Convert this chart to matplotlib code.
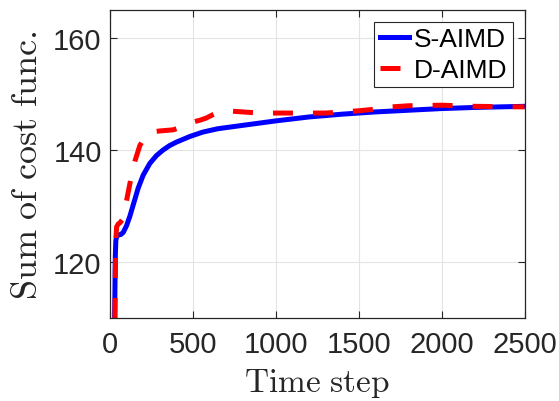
import numpy as np
import matplotlib
matplotlib.use('Agg')
import matplotlib.pyplot as plt

plt.rcParams['mathtext.fontset'] = 'cm'
plt.rcParams['font.family'] = ['Liberation Sans', 'DejaVu Sans']

# S-AIMD (solid blue)
s_x = [28, 30, 32, 35, 40, 50, 65, 80, 100, 120, 140, 170, 200, 240, 280, 320, 360,
       400, 480, 560, 650, 800, 1000, 1200, 1400, 1600, 1800, 2000, 2200, 2500]
s_y = [110, 116, 121, 123.8, 124.6, 124.8, 124.9, 125.3, 126.5, 128.2, 130.2, 133.2,
       135.5, 137.6, 139.0, 140.0, 140.8, 141.4, 142.4, 143.2, 143.8, 144.4, 145.2,
       145.9, 146.4, 146.8, 147.1, 147.4, 147.6, 147.8]

# D-AIMD (dashed red)
d_x = [30, 32, 35, 40, 50, 60, 75, 90, 110, 130, 150, 180, 210, 240, 270, 300, 340,
       380, 420, 460, 500, 540, 580, 620, 660, 700, 800, 900, 1000, 1100, 1200, 1300,
       1400, 1500, 1600, 1700, 1800, 2000, 2200, 2500]
d_y = [110, 118, 124, 126.3, 126.8, 127.0, 127.6, 129.5, 132.5, 135.5, 138.0, 140.8,
       142.3, 143.0, 143.3, 143.4, 143.5, 143.6, 144.0, 144.6, 145.0, 145.3, 145.7,
       146.3, 146.8, 147.0, 146.8, 146.6, 146.6, 146.6, 146.6, 146.6, 146.8, 147.0,
       147.3, 147.7, 147.9, 148.0, 147.8, 147.7]

fig = plt.figure(figsize=(5.59, 4.02), dpi=100)
ax = fig.add_axes([0.1968, 0.2065, 0.9383 - 0.1968, 0.9726 - 0.2065])

ax.plot(s_x, s_y, color='#0000ff', lw=3.6, label='S-AIMD')
ax.plot(d_x, d_y, color='#ff0000', lw=3.6, ls=(0, (4, 4)), label='D-AIMD')

ax.set_xlim(0, 2500)
ax.set_ylim(110, 165)
ax.set_xticks([0, 500, 1000, 1500, 2000, 2500])
ax.set_yticks([120, 140, 160])
ax.grid(True, color='#e3e3e3', lw=0.8)
ax.set_axisbelow(True)
ax.tick_params(direction='in', length=5, width=0.8, colors='#262626',
               labelsize=21, top=True, right=True)
ax.tick_params(axis='x', pad=9)
ax.tick_params(axis='y', pad=6)
for sp in ax.spines.values():
    sp.set_color('#262626')
    sp.set_linewidth(0.9)

ax.set_xlabel(r'$\mathrm{Time\ step}$', fontsize=24, color='#262626')
ax.set_ylabel(r'$\mathrm{Sum\ of\ cost\ func.}$', fontsize=26, color='#262626')
ax.xaxis.set_label_coords(0.5, -0.155)
ax.yaxis.set_label_coords(-0.158, 0.5)

leg = ax.legend(loc='upper right', fontsize=19, handlelength=1.1, handletextpad=0.2,
                borderpad=0.2, labelspacing=0.25, borderaxespad=0.45,
                fancybox=False, framealpha=1, edgecolor='#262626')
leg.get_frame().set_linewidth(0.8)

fig.savefig('out.png', dpi=100)
